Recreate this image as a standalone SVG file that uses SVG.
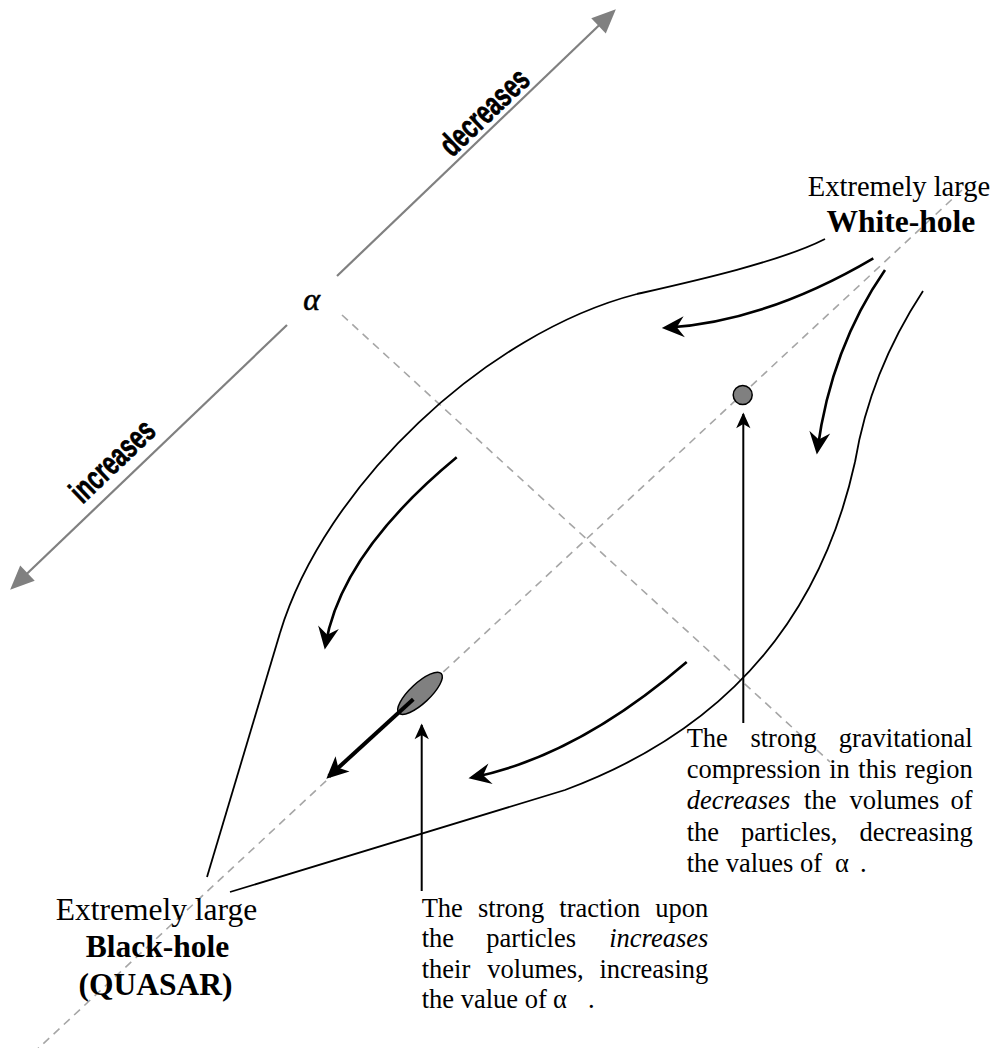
<svg xmlns="http://www.w3.org/2000/svg" width="1007" height="1048" viewBox="0 0 1007 1048">
<style>
.bd{fill:none;stroke:#000;stroke-width:1.8}
.ar{fill:none;stroke:#000;stroke-width:2.6;marker-end:url(#barb)}
.ax{fill:none;stroke:#808080;stroke-width:2.2;marker-end:url(#tri)}
.dash{fill:none;stroke:#a6a6a6;stroke-width:1.6;stroke-dasharray:8 6}
.vt{fill:none;stroke:#000;stroke-width:2;marker-end:url(#thin)}
.t{font-family:"Liberation Serif","Times New Roman",serif;font-size:26.5px;fill:#000}
.it{font-style:italic}
.lbl{font-family:"Liberation Sans",Arial,sans-serif;font-weight:bold;font-size:33px;fill:#000;stroke:#000;stroke-width:0.7}
</style>
<defs>
<marker id="barb" markerUnits="userSpaceOnUse" markerWidth="30" markerHeight="30" viewBox="-15 -10 20 20" refX="0" refY="0" orient="auto">
<path d="M3,0 L-12,-7 L-7,0 L-12,7 Z" fill="#000"/>
</marker>
<marker id="big" markerUnits="userSpaceOnUse" markerWidth="30" markerHeight="30" viewBox="-20 -12 26 24" refX="0" refY="0" orient="auto">
<path d="M3,0 L-16,-9 L-11,0 L-16,9 Z" fill="#000"/>
</marker>
<marker id="thin" markerUnits="userSpaceOnUse" markerWidth="20" markerHeight="20" viewBox="-12 -6 14 12" refX="0" refY="0" orient="auto">
<path d="M1,0 L-10,-5 L-7,0 L-10,5 Z" fill="#000"/>
</marker>
<marker id="tri" markerUnits="userSpaceOnUse" markerWidth="30" markerHeight="30" viewBox="-10 -8 20 16" refX="0" refY="0" orient="auto">
<path d="M8,0 L-8,-7 L-8,7 Z" fill="#808080"/>
</marker>
</defs>

<g id="axis">
<line class="ax" x1="337" y1="276" x2="607.2" y2="17.5"/>
<line class="ax" x1="287" y1="325" x2="18.8" y2="581.5"/>
<text class="lbl" transform="translate(492,120) rotate(-43.7) scale(0.68,1)" text-anchor="middle">decreases</text>
<text class="lbl" transform="translate(120,469) rotate(-43.7) scale(0.68,1)" text-anchor="middle">increases</text>
<text x="311.7" y="310" text-anchor="middle" font-family="Liberation Serif, serif" font-style="italic" font-size="32" stroke="#000" stroke-width="0.6">α</text>
</g>

<g id="guides">
<line class="dash" x1="342" y1="315" x2="830" y2="762"/>
<line class="dash" x1="962" y1="190" x2="30" y2="1056"/>
</g>

<g id="boundary">
<path class="bd" d="M280,633 C324.7,485.6 485.5,333 637,294"/>
<path class="bd" d="M637,294 C690,282 780,262 825,239"/>
<path class="bd" d="M280,633 L207,877"/>
<path class="bd" d="M230,892 L565,790 Q802,702 855,462"/>
<path class="bd" d="M855,462 Q870,372 923,291"/>
</g>

<g id="white-hole-particle">
<circle cx="742.7" cy="395" r="9.5" fill="#808080" stroke="#000" stroke-width="1.5"/>
</g>
<g id="black-hole-particle">
<ellipse cx="420" cy="693.3" rx="29" ry="10" transform="rotate(-43 420 693.3)" fill="#808080" stroke="#000" stroke-width="1.5"/>
</g>

<g id="connectors">
<path class="ar" d="M873.3,258.3 Q766,321.5 666.3,327.8"/>
<path class="ar" d="M885,270 Q831,348 817.4,450"/>
<path class="ar" d="M456.7,457.3 Q341,553 325.5,645"/>
<path class="ar" d="M686.7,662 Q577.6,756 472.9,777.4"/>
<path d="M413.3,699.3 L328.9,776.3" fill="none" stroke="#000" stroke-width="4" marker-end="url(#big)"/>
<line class="vt" x1="743.3" y1="723" x2="743.3" y2="414"/>
<line class="vt" x1="421.7" y1="891" x2="421.7" y2="725"/>
</g>

<g id="white-hole-label" class="t">
<text x="899" y="196" text-anchor="middle" font-size="28.5">Extremely large</text>
<text x="900.8" y="231.7" text-anchor="middle" font-size="31.5" font-weight="bold">White-hole</text>
</g>

<g id="black-hole-label" class="t">
<text x="156.5" y="920" text-anchor="middle" font-size="31.5">Extremely large</text>
<text x="157.5" y="956.7" text-anchor="middle" font-size="31.5" font-weight="bold">Black-hole</text>
<text x="155.5" y="995" text-anchor="middle" font-size="31.5" font-weight="bold">(QUASAR)</text>
</g>

<g id="compression-note" class="t">
<text x="686.7" y="747">The</text>
<text x="750.4" y="747">strong</text>
<text x="972.7" y="747" text-anchor="end">gravitational</text>
<text x="686.7" y="778.2">compression</text>
<text x="829.2" y="778.2">in</text>
<text x="858.3" y="778.2">this</text>
<text x="972.7" y="778.2" text-anchor="end">region</text>
<text x="686.7" y="809.4" class="it">decreases</text>
<text x="804.1" y="809.4">the</text>
<text x="849.4" y="809.4">volumes</text>
<text x="972.7" y="809.4" text-anchor="end">of</text>
<text x="686.7" y="840.5">the</text>
<text x="741" y="840.5">particles,</text>
<text x="972.7" y="840.5" text-anchor="end">decreasing</text>
<text x="686.7" y="871.7">the values of</text>
<text x="835" y="871.7">α</text>
<text x="860" y="871.7">.</text>
</g>

<g id="traction-note" class="t">
<text x="421.7" y="916.7">The</text>
<text x="478" y="916.7">strong</text>
<text x="559.3" y="916.7">traction</text>
<text x="708.3" y="916.7" text-anchor="end">upon</text>
<text x="421.7" y="947.1">the</text>
<text x="486.3" y="947.1">particles</text>
<text x="708.3" y="947.1" text-anchor="end" class="it">increases</text>
<text x="421.7" y="977.5">their</text>
<text x="487.3" y="977.5">volumes,</text>
<text x="708.3" y="977.5" text-anchor="end">increasing</text>
<text x="421.7" y="1008">the value of</text>
<text x="553" y="1008">α</text>
<text x="588" y="1008">.</text>
</g>
</svg>
